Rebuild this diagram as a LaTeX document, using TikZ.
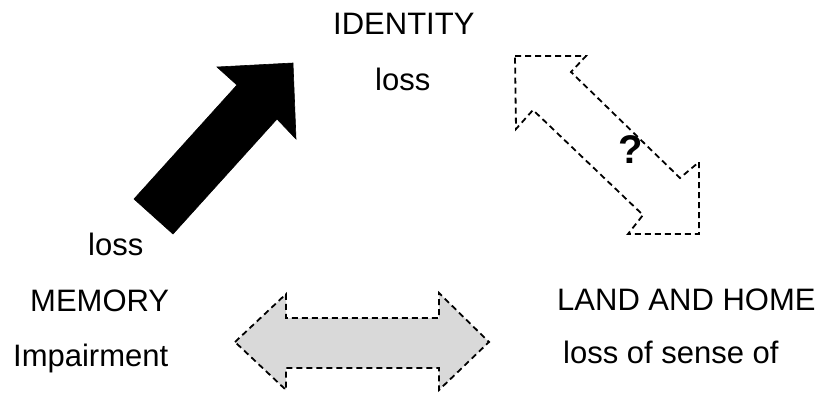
\documentclass[tikz,border=0pt]{standalone}
\usepackage{fontspec}
\setmainfont{Liberation Sans}
\definecolor{arrowgrey}{HTML}{D9D9D9}
\begin{document}
\begin{tikzpicture}[x=1pt,y=-1pt,
  lbl/.style={font=\fontsize{31}{37}\selectfont, inner sep=0pt, anchor=base west},
  dasharrow/.style={draw=black, line width=1.8pt, dash pattern=on 6pt off 4pt, line join=miter}]
\useasboundingbox (0,0) rectangle (822,394);
% black arrow
\fill[black] (134,199) -- (173,234) -- (277,119) -- (296,139) -- (293,63) -- (217,67) -- (237,85) -- cycle;
\draw[black, line width=0.6pt] (134,199) -- (173,234) -- (277,119) -- (296,139) -- (293,63) -- (217,67) -- (237,85) -- cycle;
% dashed double arrow (diagonal)
\draw[dasharrow] (515,56) -- (586,56) -- (571,72) -- (680,178) -- (699,162) -- (699,234) -- (628,234) -- (643,215) -- (533,110) -- (516,129) -- cycle;
% grey double arrow
\draw[dasharrow, fill=arrowgrey] (235,342) -- (286,294) -- (286,318) -- (439,318) -- (439,293) -- (489,342) -- (439,390) -- (439,368) -- (286,368) -- (286,390) -- cycle;
% labels
\node[lbl] (identity) at (333,34) {IDENTITY};
\node[lbl] (loss1) at (375,90) {loss};
\node[lbl] (loss2) at (88,255) {loss};
\node[lbl] (memory) at (30,311) {MEMORY};
\node[lbl] (impair) at (13,366) {Impairment};
\node[lbl] (land) at (557,310) {LAND AND HOME};
\node[lbl] (sense) at (563,363) {loss of sense of};
\node[font=\fontsize{40}{44}\selectfont\bfseries, inner sep=0pt] (q) at (631,150) {?};
\end{tikzpicture}
\end{document}
